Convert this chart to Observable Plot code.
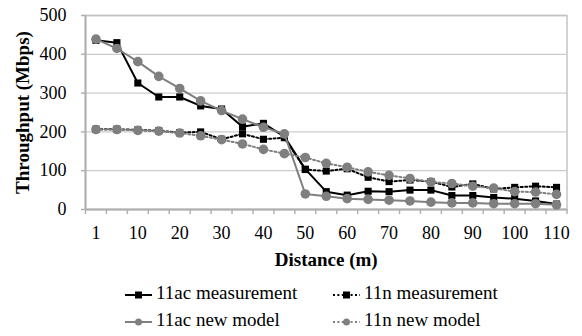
<!DOCTYPE html>
<html>
<head>
<meta charset="utf-8">
<script src="https://cdn.jsdelivr.net/npm/d3@7"></script>
<script src="https://cdn.jsdelivr.net/npm/@observablehq/plot@0.6"></script>
<style>
  html, body { margin: 0; padding: 0; background: #fff; }
  #wrap { position: relative; width: 582px; height: 336px; }
  #legend { position: absolute; left: 0; top: 270px; width: 582px; height: 66px; }
  .item { position: absolute; font-size: 19px; line-height: normal; color: #000; white-space: nowrap; }
  .sw { position: absolute; }
</style>
</head>
<body>
<div id="wrap">
  <div id="chart"></div>
  <div id="legend"></div>
</div>
<script>
// Distance categories (m)
const distances = [1, 5, 10, 15, 20, 25, 30, 35, 40, 45, 50, 55, 60, 65, 70, 75, 80, 85, 90, 95, 100, 105, 110];
// Throughput (Mbps)
const ac_measurement = [436, 430, 326, 290, 290, 267, 259, 213, 222, 188, 104, 46, 37, 47, 46, 50, 50, 36, 36, 31, 28, 22, 14];
const n_measurement  = [207, 207, 205, 203, 198, 200, 181, 195, 181, 185, 103, 99, 105, 83, 72, 76, 72, 58, 66, 53, 57, 60, 57];
const ac_model       = [439, 415, 381, 343, 312, 280, 255, 233, 212, 195, 40, 34, 28, 26, 24, 22, 19, 17, 17, 15, 15, 15, 12];
const n_model        = [206, 206, 204, 202, 197, 190, 180, 169, 155, 144, 134, 119, 109, 97, 88, 80, 71, 67, 60, 55, 46, 45, 39];
const xTickLabels = [1, 10, 20, 30, 40, 50, 60, 70, 80, 90, 100, 110];
const yTicks = [0, 100, 200, 300, 400, 500];
const seriesNames = ["11ac measurement", "11n measurement", "11ac new model", "11n new model"];

const rowsOf = (vals) => distances.map((d, i) => ({i, d, v: vals[i]}));
const acM = rowsOf(ac_measurement), nM = rowsOf(n_measurement), acMod = rowsOf(ac_model), nMod = rowsOf(n_model);

const labelIdx = xTickLabels.map(l => distances.indexOf(l));
const boundaries = d3.range(-0.5, distances.length, 1);

const BLACK = "#000000", GRAY = "#7f7f7f", DOT = "2 2.4";
const FONT = "Liberation Serif";

const chart = Plot.plot({
  width: 582,
  height: 270,
  marginLeft: 85,
  marginRight: 15.5,
  marginTop: 15,
  marginBottom: 61,
  x: {domain: [-0.5, distances.length - 0.5]},
  y: {domain: [0, 500]},
  style: {fontFamily: FONT, fontSize: "18px", color: "#000", background: "#fff"},
  marks: [
    Plot.gridY(yTicks, {stroke: "#cccccc", strokeOpacity: 1, strokeWidth: 1.3}),
    Plot.frame({stroke: "#c4c4c4", strokeWidth: 1.5}),
    Plot.ruleX([-0.5], {stroke: "#b0b0b0", strokeWidth: 2}),
    Plot.ruleY([0], {stroke: "#b0b0b0", strokeWidth: 2}),
    Plot.axisY(yTicks, {tickSize: 4, fill: "none", stroke: "#b0b0b0", strokeWidth: 1.5, label: null}),
    Plot.axisY(yTicks, {tickSize: 0, tickPadding: 19, fill: "#000", label: null}),
    Plot.axisX(boundaries, {tickSize: 5, fill: "none", stroke: "#b0b0b0", strokeWidth: 1.5, label: null}),
    Plot.axisX(labelIdx, {tickSize: 0, tickPadding: 17, tickFormat: i => distances[i], fill: "#000", label: null}),
    // series
    Plot.line(acM, {x: "i", y: "v", stroke: BLACK, strokeWidth: 2}),
    Plot.dot(acM, {x: "i", y: "v", symbol: "square", fill: BLACK, r: 4}),
    Plot.line(nM, {x: "i", y: "v", stroke: BLACK, strokeWidth: 2, strokeDasharray: DOT}),
    Plot.dot(nM, {x: "i", y: "v", symbol: "square", fill: BLACK, r: 4}),
    Plot.line(acMod, {x: "i", y: "v", stroke: GRAY, strokeWidth: 2}),
    Plot.dot(acMod, {x: "i", y: "v", fill: GRAY, r: 4.8}),
    Plot.line(nMod, {x: "i", y: "v", stroke: GRAY, strokeWidth: 2, strokeDasharray: DOT}),
    Plot.dot(nMod, {x: "i", y: "v", fill: GRAY, r: 4.8}),
    // axis titles
    Plot.text(["Distance (m)"], {frameAnchor: "bottom", textAnchor: "middle", lineAnchor: "bottom", dy: 56, text: d => d, fontWeight: "bold", fontSize: 19}),
    Plot.text(["Throughput (Mbps)"], {frameAnchor: "left", textAnchor: "middle", lineAnchor: "bottom", rotate: -90, dx: -57, text: d => d, fontWeight: "bold", fontSize: 19})
  ]
});
chart.style.fontFamily = FONT;
document.getElementById("chart").appendChild(chart);

// Legend
const legendSpec = [
  {name: seriesNames[0], color: BLACK, dash: null, sym: "square", lx: 125, row: 0},
  {name: seriesNames[1], color: BLACK, dash: DOT, sym: "square", lx: 333, row: 0},
  {name: seriesNames[2], color: GRAY, dash: null, sym: "circle", lx: 125, row: 1},
  {name: seriesNames[3], color: GRAY, dash: DOT, sym: "circle", lx: 333, row: 1}
];
const legend = document.getElementById("legend");
const rowCenter = [25, 52];   // marker line centers within legend block
const rowTop = [12, 39];      // text box tops
legendSpec.forEach(s => {
  const svgNS = "http://www.w3.org/2000/svg";
  const svg = document.createElementNS(svgNS, "svg");
  svg.setAttribute("width", 30); svg.setAttribute("height", 12);
  svg.setAttribute("class", "sw");
  svg.style.left = s.lx + "px";
  svg.style.top = (rowCenter[s.row] - 6) + "px";
  const line = document.createElementNS(svgNS, "line");
  line.setAttribute("x1", 0); line.setAttribute("x2", 27);
  line.setAttribute("y1", 6); line.setAttribute("y2", 6);
  line.setAttribute("stroke", s.color); line.setAttribute("stroke-width", 2);
  if (s.dash) line.setAttribute("stroke-dasharray", s.dash);
  svg.appendChild(line);
  let m;
  if (s.sym === "square") {
    m = document.createElementNS(svgNS, "rect");
    m.setAttribute("x", 13.5 - 3.5); m.setAttribute("y", 6 - 3.5);
    m.setAttribute("width", 7); m.setAttribute("height", 7);
  } else {
    m = document.createElementNS(svgNS, "circle");
    m.setAttribute("cx", 13.5); m.setAttribute("cy", 6); m.setAttribute("r", 3.5);
  }
  m.setAttribute("fill", s.color);
  svg.appendChild(m);
  legend.appendChild(svg);
  const t = document.createElement("div");
  t.className = "item";
  t.style.fontFamily = FONT;
  t.textContent = s.name;
  t.style.left = (s.lx + 31) + "px";
  t.style.top = rowTop[s.row] + "px";
  legend.appendChild(t);
});
</script>
</body>
</html>
